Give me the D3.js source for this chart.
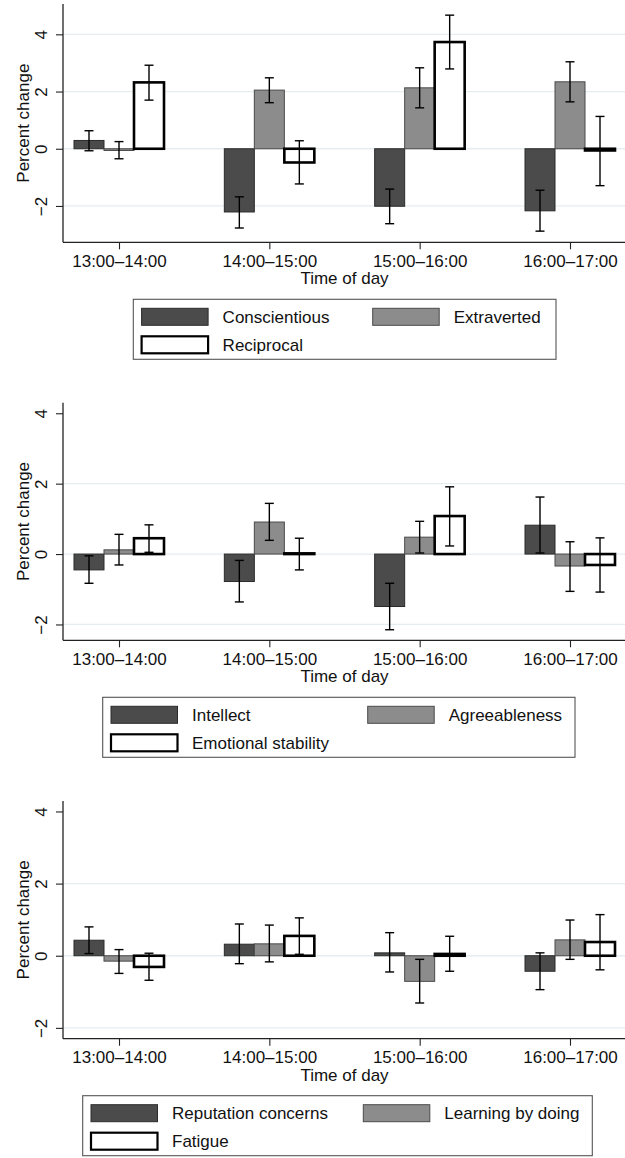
<!DOCTYPE html>
<html>
<head>
<meta charset="utf-8">
<script src="https://cdn.jsdelivr.net/npm/d3@7"></script>
<style>
  html, body { margin: 0; padding: 0; background: #fff; }
  svg { display: block; }
  text { font-family: "Liberation Sans", Arial, Helvetica, sans-serif; fill: #111; }
</style>
</head>
<body>
<svg id="chart" width="625" height="1158"></svg>
<script>
// ---------------- DATA ----------------
const categories = ["13:00–14:00", "14:00–15:00", "15:00–16:00", "16:00–17:00"];
const yTickValues = [-2, 0, 2, 4];
const yTickLabels = ["−2", "0", "2", "4"];
const xTitle = "Time of day";
const yTitle = "Percent change";

// Panel 1
const p1Names = ["Conscientious", "Extraverted", "Reciprocal"];
const p1Mean = [[0.29, -2.21, -2.01, -2.17], [-0.06, 2.05, 2.13, 2.34], [2.32, -0.48, 3.73, -0.06]];
const p1Low  = [[-0.07, -2.77, -2.62, -2.88], [-0.35, 1.61, 1.43, 1.64], [1.70, -1.23, 2.79, -1.29]];
const p1High = [[0.63, -1.68, -1.41, -1.45], [0.25, 2.48, 2.83, 3.04], [2.92, 0.28, 4.67, 1.13]];

// Panel 2
const p2Names = ["Intellect", "Agreeableness", "Emotional stability"];
const p2Mean = [[-0.45, -0.78, -1.49, 0.82], [0.12, 0.91, 0.48, -0.34], [0.45, 0.02, 1.08, -0.31]];
const p2Low  = [[-0.83, -1.36, -2.15, 0.03], [-0.31, 0.39, 0.03, -1.06], [0.05, -0.45, 0.23, -1.08]];
const p2High = [[-0.05, -0.18, -0.83, 1.62], [0.56, 1.44, 0.93, 0.35], [0.83, 0.45, 1.91, 0.46]];

// Panel 3
const p3Names = ["Reputation concerns", "Learning by doing", "Fatigue"];
const p3Mean = [[0.43, 0.32, 0.08, -0.43], [-0.15, 0.33, -0.71, 0.44], [-0.31, 0.55, 0.05, 0.38]];
const p3Low  = [[0.06, -0.22, -0.45, -0.94], [-0.49, -0.17, -1.31, -0.10], [-0.68, 0.04, -0.43, -0.39]];
const p3High = [[0.80, 0.88, 0.64, 0.08], [0.17, 0.85, -0.10, 0.99], [0.07, 1.05, 0.54, 1.14]];

// ---------------- LAYOUT / STYLE ----------------
const panels = [
  { names: p1Names, mean: p1Mean, low: p1Low, high: p1High,
    top: 4, bottom: 242.3, yDomain: [-3.27, 5.06], grid: [-2, 0, 2, 4],
    legend: { x0: 133.3, x1: 556, col2: 372.7 } },
  { names: p2Names, mean: p2Mean, low: p2Low, high: p2High,
    top: 402.7, bottom: 640.3, yDomain: [-2.45, 4.30], grid: [-2, 0, 2],
    legend: { x0: 102.7, x1: 575, col2: 367.7 } },
  { names: p3Names, mean: p3Mean, low: p3Low, high: p3High,
    top: 801, bottom: 1038.7, yDomain: [-2.30, 4.29], grid: [-2, 0, 2],
    legend: { x0: 82.7, x1: 592.3, col2: 363.3 } }
];
const plotLeft = 63, plotRight = 626;
const fills = ["#4b4b4b", "#8c8c8c", "#ffffff"];
const strokes = ["#2b2b2b", "#4a4a4a", "#000000"];
const strokeW = [1, 1, 2.6];
const fontSize = 17;

const svg = d3.select("#chart");

const x0 = d3.scalePoint().domain(categories).range([plotLeft, plotRight]).padding(0.3725);
const barStep = 30;
const x1 = d3.scaleBand().domain([0, 1, 2]).range([-1.5 * barStep, 1.5 * barStep]).padding(0);

panels.forEach((p, pi) => {
  const g = svg.append("g");
  const y = d3.scaleLinear().domain(p.yDomain).range([p.bottom, p.top]);

  // gridlines
  g.selectAll(".grid").data(p.grid).enter().append("line")
    .attr("x1", plotLeft).attr("x2", plotRight)
    .attr("y1", d => y(d)).attr("y2", d => y(d))
    .attr("stroke", "#e5edf0").attr("stroke-width", 1.3);

  // bars
  p.names.forEach((name, si) => {
    const rows = categories.map((c, ci) => ({ c, v: p.mean[si][ci], lo: p.low[si][ci], hi: p.high[si][ci] }));
    g.selectAll(".bar" + si).data(rows).enter().append("rect")
      .attr("x", d => x0(d.c) + x1(si))
      .attr("width", x1.bandwidth())
      .attr("y", d => y(Math.max(0, d.v)))
      .attr("height", d => Math.abs(y(d.v) - y(0)))
      .attr("fill", fills[si])
      .attr("stroke", strokes[si])
      .attr("stroke-width", strokeW[si]);
  });
  // error bars
  p.names.forEach((name, si) => {
    const rows = categories.map((c, ci) => ({ c, lo: p.low[si][ci], hi: p.high[si][ci] }));
    const eg = g.selectAll(".err" + si).data(rows).enter().append("g")
      .attr("transform", d => `translate(${x0(d.c) + x1(si) + x1.bandwidth() / 2},0)`);
    eg.append("line").attr("x1", 0).attr("x2", 0)
      .attr("y1", d => y(d.lo)).attr("y2", d => y(d.hi))
      .attr("stroke", "#000").attr("stroke-width", 1.4);
    eg.append("line").attr("x1", -4.5).attr("x2", 4.5)
      .attr("y1", d => y(d.lo)).attr("y2", d => y(d.lo))
      .attr("stroke", "#000").attr("stroke-width", 1.4);
    eg.append("line").attr("x1", -4.5).attr("x2", 4.5)
      .attr("y1", d => y(d.hi)).attr("y2", d => y(d.hi))
      .attr("stroke", "#000").attr("stroke-width", 1.4);
  });

  // y axis
  const yAxis = d3.axisLeft(y).tickValues(yTickValues).tickSize(7).tickFormat((d, i) => yTickLabels[i]);
  const ya = g.append("g").attr("transform", `translate(${plotLeft},0)`).call(yAxis);
  ya.select(".domain").attr("d", `M0,${p.top}V${p.bottom}`).attr("stroke", "#222").attr("stroke-width", 1.3);
  ya.selectAll(".tick line").attr("stroke", "#222").attr("stroke-width", 1.1);
  ya.selectAll(".tick text")
    .attr("x", null).attr("dy", null)
    .attr("transform", "translate(-16,0) rotate(-90)")
    .attr("text-anchor", "middle")
    .style("font-family", '"Liberation Sans", Arial, sans-serif')
    .style("font-size", fontSize + "px").attr("fill", "#111");

  // x axis
  const xAxis = d3.axisBottom(x0).tickSize(7).tickSizeOuter(0);
  const xa = g.append("g").attr("transform", `translate(0,${p.bottom})`).call(xAxis);
  xa.select(".domain").attr("d", `M${plotLeft},0H${plotRight}`).attr("stroke", "#222").attr("stroke-width", 1.3);
  xa.selectAll(".tick line").attr("stroke", "#222").attr("stroke-width", 1.1);
  xa.selectAll(".tick text").attr("y", 24.4).attr("dy", null)
    .style("font-family", '"Liberation Sans", Arial, sans-serif')
    .style("font-size", fontSize + "px").attr("fill", "#111");

  // titles
  g.append("text").attr("x", (plotLeft + plotRight) / 2).attr("y", p.bottom + 42)
    .attr("text-anchor", "middle").style("font-size", fontSize + "px").text(xTitle);
  g.append("text").attr("transform", `translate(28.5,${(p.top + p.bottom) / 2}) rotate(-90)`)
    .attr("text-anchor", "middle").style("font-size", fontSize + "px").text(yTitle);

  // legend
  const L = p.legend;
  const lt = p.bottom + 57;
  const lg = g.append("g");
  lg.append("rect").attr("x", L.x0).attr("y", lt).attr("width", L.x1 - L.x0).attr("height", 60)
    .attr("fill", "#fff").attr("stroke", "#555").attr("stroke-width", 1.1);
  const pos = [
    { sx: L.x0 + 8.3, sy: lt + 9 },
    { sx: L.col2, sy: lt + 9 },
    { sx: L.x0 + 8.3, sy: lt + 37 }
  ];
  const items = lg.selectAll(".li").data(p.names).enter().append("g")
    .attr("transform", (d, i) => `translate(${pos[i].sx},${pos[i].sy})`);
  items.append("rect").attr("width", 66.5).attr("height", 17)
    .attr("fill", (d, i) => fills[i]).attr("stroke", (d, i) => strokes[i])
    .attr("stroke-width", (d, i) => strokeW[i] === 1 ? 1 : 2.2);
  items.append("text").attr("x", 81).attr("y", 8.5).attr("dy", "0.35em")
    .style("font-size", fontSize + "px").text(d => d);
});
</script>
</body>
</html>
